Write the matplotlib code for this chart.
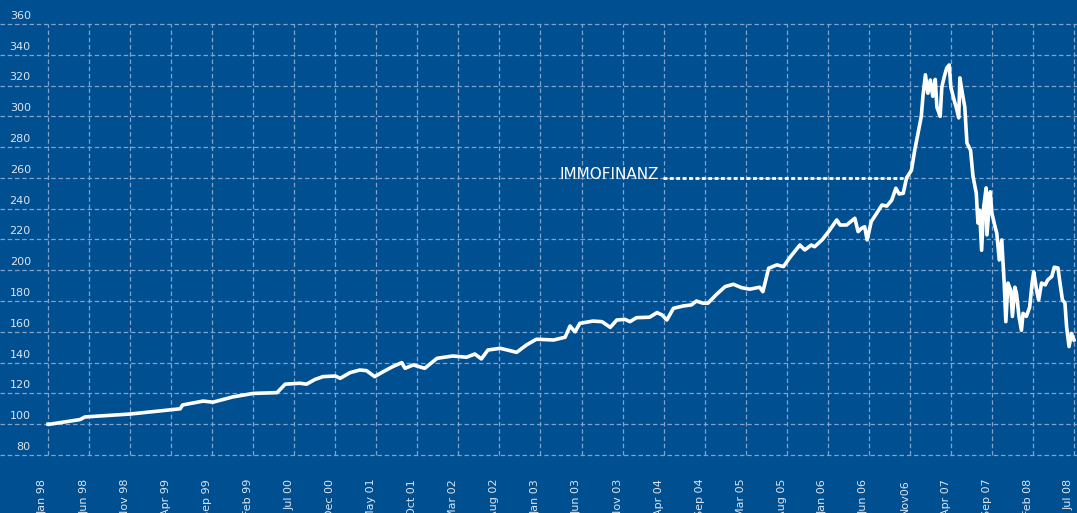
import matplotlib
matplotlib.use("Agg")
import matplotlib.pyplot as plt

# months since Jan 98 (5 months per grid step) and index value
months = [
    0.0, 0.24, 3.9, 4.5, 10.0, 16.1, 16.4, 18.9, 20.1, 22.5, 25.0, 27.9, 28.9,
    30.7, 31.5, 32.5, 33.5, 35.0, 35.6, 36.8, 38.0, 38.8, 39.8, 40.8, 42.0,
    43.1, 43.5, 44.5, 45.9, 47.4, 49.3, 51.0, 52.0, 52.8, 53.6, 55.1, 57.1,
    58.3, 59.5, 61.6, 63.0, 63.6, 64.2, 64.8, 66.4, 67.5, 68.5, 69.3, 70.3,
    70.9, 71.7, 73.3, 74.2, 74.8, 75.4, 76.2, 77.4, 78.4, 79.0, 79.8, 80.4,
    81.5, 82.5, 83.5, 84.5, 85.5, 86.7, 87.1, 87.8, 88.8, 89.6, 90.4, 91.6,
    92.2, 93.0, 93.4, 94.3, 95.1, 96.1, 96.5, 97.3, 98.3, 98.7, 99.1, 99.5,
    99.8, 100.3, 100.96, 101.6, 102.2, 102.8, 103.3, 103.7, 104.2, 104.6,
    105.2, 105.6, 106.0, 106.4, 106.6, 106.9, 107.2, 107.5, 107.8, 108.1,
    108.3, 108.7, 108.9, 109.2, 109.5, 109.8, 110.0, 110.4, 110.7, 110.96,
    111.1, 111.4, 111.7, 111.96, 112.4, 112.7, 113.1, 113.3, 113.5, 113.75,
    114.0, 114.3, 114.4, 114.8, 115.0, 115.4, 115.6, 115.9, 116.2, 116.5,
    116.7, 116.96, 117.3, 117.5, 117.8, 118.0, 118.3, 118.6, 118.8, 119.2,
    119.6, 119.9, 120.1, 120.45, 120.7, 121.05, 121.5, 121.8, 122.3, 122.6,
    123.05, 123.3, 123.6, 123.9, 124.1, 124.4, 124.7, 125.0,
]
values = [
    100, 100, 103, 104.7, 106.6, 110, 112.5, 115, 114.3, 117.7, 120, 120.5, 126,
    126.6, 126, 129, 130.9, 131.3, 129.8, 133.5, 135.2, 134.8, 130.9, 134, 137.4,
    140, 136.3, 138.5, 136.3, 142.8, 144.3, 143.5, 145.6, 142.4, 148.2, 149.3, 146.7,
    151.5, 155.2, 154.7, 156.5, 163.8, 160, 165.5, 167, 166.6, 162.9, 167.7, 168.1,
    166.6, 169.2, 169.5, 172.5, 171, 167.7, 175.3, 176.8, 177.5, 180, 178.6, 178.6,
    184.6, 189.4, 190.9, 188.7, 187.7, 189, 186.1, 201.3, 203.5, 202.4, 208.4, 216.4,
    213.2, 216.4, 215.3, 219.7, 225.1, 232.7, 229.4, 229.4, 233.8, 225.1, 227.2, 228.3,
    219.7, 231.6, 237, 242.4, 241.7, 245.6, 253.3, 249.6, 250, 260,
    265, 278, 289, 300, 313, 327, 315, 323.6, 313, 324,
    306, 300, 319, 325.8, 331.4, 333.4, 319, 310.5, 305, 299,
    325, 315, 306, 282.7, 278, 261, 250, 230.7, 239, 213,
    241, 253.5, 223, 251, 237, 228, 224, 206.7, 219.7, 191.7,
    166.6, 191.7, 187, 170, 189, 185, 170, 161, 172, 170,
    176, 191.7, 199, 187, 180.7, 191.7, 190.5, 193.7, 196, 202,
    201.5, 191.7, 180.7, 178.8, 163.4, 150.4, 159, 154.7,
]

x_labels = [
    "Jan 98", "Jun 98", "Nov 98", "Apr 99", "Sep 99", "Feb 99", "Jul 00",
    "Dec 00", "May 01", "Oct 01", "Mar 02", "Aug 02", "Jan 03", "Jun 03",
    "Nov 03", "Apr 04", "Sep 04", "Mar 05", "Aug 05", "Jan 06", "Jun 06",
    "Nov06", "Apr 07", "Sep 07", "Feb 08", "Jul 08",
]
x_ticks = [5 * i for i in range(len(x_labels))]
y_ticks = list(range(80, 361, 20))

label_name = "IMMOFINANZ"
label_level = 260
label_start, label_end = 74.9, 104.2

BG = "#004f91"
GRID = "#7fa3ca"
TEXT = "#dbe5f0"

fig = plt.figure(figsize=(10.77, 5.13), dpi=100)
fig.patch.set_facecolor(BG)
ax = fig.add_axes([0, 0, 1, 1])
ax.set_facecolor(BG)
ax.set_xlim(-5.85, 125.37)
ax.set_ylim(42.3, 375.6)
ax.axis("off")

# grid
ax.hlines(y_ticks, -5.85, 125.37, colors=GRID, linewidth=0.9,
          linestyles=(0, (3.6, 2.2)), zorder=1)
ax.vlines(x_ticks, y_ticks[0], y_ticks[-1], colors=GRID, linewidth=0.9,
          linestyles=(0, (3.6, 2.2)), zorder=1)

# y labels sit just above their gridlines
for v in y_ticks:
    ax.text(-2.1, v + 2, str(v), ha="right", va="bottom",
            color=TEXT, fontsize=8)

# rotated month labels
for m, lab in zip(x_ticks, x_labels):
    ax.text(m, 64.5, lab, rotation=90, ha="right", va="top",
            color=TEXT, fontsize=8)

# series
ax.plot(months, values, color="white", linewidth=2.6, zorder=3,
        solid_joinstyle="round")

# annotation
ax.hlines(label_level, label_start, label_end, colors="white",
          linewidth=2.0, linestyles=(0, (1.4, 0.9)), zorder=2)
ax.text(label_start - 0.5, label_level - 0.5, label_name, ha="right",
        va="baseline", color="white", fontsize=11)

fig.savefig("out.png", dpi=100, facecolor=BG)
